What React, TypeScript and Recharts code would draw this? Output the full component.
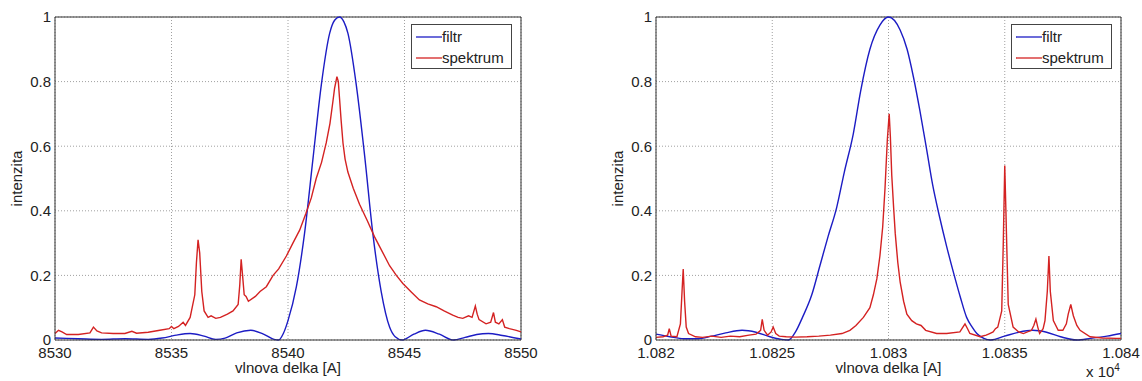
import React from "react";
import {
  LineChart,
  Line,
  XAxis,
  YAxis,
  CartesianGrid,
  Legend,
  ReferenceLine,
} from "recharts";

// ---- left panel (8530 - 8550 A) ----
const leftFiltrX = [
  8530.0, 8531.0, 8532.0, 8533.0, 8534.0, 8534.6, 8535.2, 8535.8, 8536.4, 8536.9,
  8537.3, 8537.8, 8538.4, 8538.9, 8539.4, 8539.6, 8539.8, 8540.0, 8540.36, 8540.71,
  8541.07, 8541.43, 8541.79, 8542.0, 8542.2, 8542.4, 8542.57, 8542.93, 8543.29, 8543.64,
  8544.0, 8544.36, 8544.6, 8544.9, 8545.4, 8545.9, 8546.5, 8547.1, 8547.6, 8548.1,
  8548.6, 8549.2, 8550.0,
];
const leftFiltrY = [
  0.006, 0.004, 0.002, 0.004, 0.002, 0.006, 0.015, 0.02, 0.012, 0.002,
  0.006, 0.022, 0.03, 0.02, 0.002, 0.0, 0.02, 0.06, 0.165, 0.33,
  0.56, 0.79, 0.95, 0.99, 1.0, 0.985, 0.95, 0.79, 0.57, 0.33,
  0.15, 0.04, 0.01, 0.0, 0.018, 0.03, 0.018, 0.0, 0.008, 0.017,
  0.02, 0.014, 0.003,
];
const leftSpektrumX = [
  8530.0, 8530.15, 8530.3, 8530.5, 8531.0, 8531.5, 8531.65, 8531.8, 8532.0, 8532.5,
  8533.0, 8533.3, 8533.5, 8534.0, 8534.5, 8534.9, 8535.0, 8535.1, 8535.3, 8535.5,
  8535.6, 8535.8, 8536.0, 8536.07, 8536.14, 8536.21, 8536.3, 8536.4, 8536.57, 8536.7,
  8536.9, 8537.1, 8537.4, 8537.64, 8537.86, 8537.93, 8537.99, 8538.05, 8538.12, 8538.2,
  8538.3, 8538.6, 8538.8, 8539.07, 8539.36, 8539.6, 8539.93, 8540.21, 8540.5, 8540.76,
  8541.0, 8541.21, 8541.44, 8541.64, 8541.8, 8541.93, 8542.0, 8542.1, 8542.16, 8542.21,
  8542.28, 8542.36, 8542.45, 8542.57, 8542.8, 8543.07, 8543.4, 8543.71, 8544.0, 8544.36,
  8544.65, 8544.93, 8545.3, 8545.64, 8546.0, 8546.36, 8546.7, 8547.07, 8547.3, 8547.5,
  8547.75, 8547.9, 8548.04, 8548.12, 8548.2, 8548.5, 8548.7, 8548.82, 8548.9, 8549.05,
  8549.2, 8549.3, 8549.5, 8549.8, 8550.0,
];
const leftSpektrumY = [
  0.02, 0.03, 0.025, 0.017, 0.017, 0.022, 0.04, 0.028, 0.022, 0.02,
  0.02, 0.027, 0.021, 0.024, 0.03, 0.035, 0.042, 0.035, 0.042, 0.055,
  0.045, 0.07, 0.14, 0.24, 0.31, 0.27, 0.15, 0.09, 0.07, 0.075,
  0.067, 0.07, 0.08, 0.09, 0.11, 0.17, 0.25, 0.2, 0.14, 0.135,
  0.12, 0.135, 0.15, 0.165, 0.2, 0.22, 0.26, 0.3, 0.34, 0.39,
  0.44, 0.5, 0.55, 0.61, 0.67, 0.74, 0.78, 0.815, 0.8, 0.75,
  0.68, 0.61, 0.56, 0.52, 0.47, 0.42, 0.37, 0.32, 0.28, 0.23,
  0.2, 0.175, 0.148, 0.124, 0.112, 0.103, 0.09, 0.077, 0.07, 0.067,
  0.075, 0.07, 0.105, 0.08, 0.063, 0.05, 0.055, 0.085, 0.055, 0.05,
  0.063, 0.04, 0.035, 0.03, 0.025,
];

// ---- right panel (1.082e4 - 1.084e4 A) ----
const rightFiltrX = [
  10820.0, 10820.6, 10821.2, 10821.8, 10822.4, 10823.0, 10823.7, 10824.3, 10824.9, 10825.4,
  10825.7, 10826.0, 10826.3, 10826.7, 10827.05, 10827.4, 10827.77, 10828.1, 10828.49, 10828.8,
  10829.2, 10829.63, 10830.0, 10830.5, 10830.8, 10831.07, 10831.35, 10831.64, 10831.9, 10832.2,
  10832.5, 10832.79, 10833.1, 10833.36, 10833.6, 10833.8, 10834.1, 10834.4, 10835.0, 10835.6,
  10836.2, 10836.8, 10837.4, 10838.1, 10838.7, 10839.4, 10840.0,
];
const rightFiltrY = [
  0.018, 0.01, 0.004, 0.004, 0.012, 0.022, 0.03, 0.024, 0.01, 0.002,
  0.0, 0.025, 0.07, 0.14, 0.23, 0.32, 0.41, 0.52, 0.64, 0.77,
  0.9, 0.975, 1.0, 0.96, 0.9, 0.815, 0.71, 0.59, 0.48, 0.38,
  0.29, 0.21, 0.13, 0.07, 0.04, 0.02, 0.005, 0.0, 0.012, 0.024,
  0.03, 0.024, 0.01, 0.0, 0.005, 0.012, 0.02,
];
const rightSpektrumX = [
  10820.0, 10820.3, 10820.5, 10820.57, 10820.65, 10820.9, 10821.05, 10821.12, 10821.17, 10821.23,
  10821.3, 10821.4, 10821.7, 10822.0, 10822.4, 10822.8, 10823.2, 10823.6, 10824.0, 10824.3,
  10824.5, 10824.57, 10824.65, 10824.8, 10824.95, 10825.04, 10825.15, 10825.3, 10825.6, 10826.0,
  10826.5, 10827.0, 10827.5, 10828.0, 10828.34, 10828.6, 10828.92, 10829.2, 10829.35, 10829.5,
  10829.63, 10829.75, 10829.85, 10829.95, 10830.03, 10830.08, 10830.14, 10830.22, 10830.29, 10830.4,
  10830.5, 10830.65, 10830.79, 10831.0, 10831.2, 10831.4, 10831.6, 10832.07, 10832.5, 10833.07,
  10833.2, 10833.29, 10833.4, 10833.5, 10833.94, 10834.2, 10834.35, 10834.5, 10834.6, 10834.7,
  10834.87, 10834.94, 10835.0, 10835.05, 10835.08, 10835.15, 10835.36, 10835.6, 10835.8, 10836.15,
  10836.25, 10836.34, 10836.42, 10836.5, 10836.65, 10836.73, 10836.83, 10836.9, 10836.96, 10837.09,
  10837.3, 10837.5, 10837.65, 10837.73, 10837.84, 10837.95, 10838.1, 10838.24, 10838.67, 10839.2,
  10839.8, 10840.0,
];
const rightSpektrumY = [
  0.008, 0.01, 0.015, 0.035, 0.012, 0.01, 0.05, 0.15, 0.22, 0.12,
  0.04, 0.02, 0.01, 0.008, 0.012, 0.008, 0.012, 0.01, 0.015, 0.018,
  0.03, 0.064, 0.03, 0.015, 0.025, 0.04, 0.02, 0.012, 0.01, 0.009,
  0.01, 0.012, 0.015, 0.02, 0.03, 0.045, 0.07, 0.1, 0.14, 0.19,
  0.26, 0.35, 0.47, 0.62, 0.7, 0.63, 0.51, 0.41, 0.33, 0.24,
  0.18, 0.12, 0.08, 0.06, 0.05, 0.045, 0.03, 0.02, 0.02, 0.025,
  0.04, 0.05, 0.035, 0.02, 0.01, 0.015, 0.02, 0.025, 0.035, 0.04,
  0.09, 0.31, 0.54, 0.4, 0.31, 0.11, 0.04, 0.025, 0.02, 0.03,
  0.045, 0.065, 0.04, 0.02, 0.035, 0.06, 0.15, 0.26, 0.15, 0.06,
  0.03, 0.03, 0.05, 0.08, 0.11, 0.075, 0.045, 0.03, 0.01, 0.006,
  0.005, 0.005,
];

// ---- ticks ----
const yTicks = [0, 0.2, 0.4, 0.6, 0.8, 1];
const yTickLabels = ["0", "0.2", "0.4", "0.6", "0.8", "1"];
const leftXTicks = [8530, 8535, 8540, 8545, 8550];
const leftXTickLabels = ["8530", "8535", "8540", "8545", "8550"];
const rightXTicks = [10820, 10825, 10830, 10835, 10840];
const rightXTickLabels = ["1.082", "1.0825", "1.083", "1.0835", "1.084"];

const BLUE = "#1c1cc4";
const RED = "#d42222";
const FONT = "'Liberation Sans', Arial, sans-serif";
const FS = 15;

const toPoints = (xs: number[], ys: number[]) => xs.map((x, i) => ({ x, y: ys[i] }));

const renderLegend = (props: any) => {
  const { payload } = props;
  return (
    <div
      style={{
        border: "1px solid #444",
        background: "#fff",
        width: 99,
        height: 42,
        boxSizing: "content-box",
        paddingTop: 1,
      }}
    >
      {payload.map((entry: any) => (
        <div
          key={entry.value}
          style={{ display: "flex", alignItems: "center", height: 21, fontSize: FS, color: "#222" }}
        >
          <svg width={30} height={10}>
            <line x1={4} y1={5} x2={30} y2={5} stroke={entry.color} strokeWidth={1.3} />
          </svg>
          <span>{entry.value}</span>
        </div>
      ))}
    </div>
  );
};

interface PanelProps {
  left: number;
  width: number;
  yAxisWidth: number;
  labelOffset: number;
  marginRight: number;
  xTicks: number[];
  xTickLabels: string[];
  filtr: { x: number; y: number }[];
  spektrum: { x: number; y: number }[];
  legendLeft: number;
}

const Panel = (p: PanelProps) => {
  const xMin = p.xTicks[0];
  const xMax = p.xTicks[p.xTicks.length - 1];
  return (
    <div style={{ position: "absolute", left: p.left, top: 0 }}>
      <LineChart
        width={p.width}
        height={381}
        margin={{ top: 17, right: p.marginRight, left: 0, bottom: 0 }}
        style={{ fontFamily: FONT }}
      >
        <CartesianGrid stroke="#a0a0a0" strokeDasharray="1 2" />
        <XAxis
          dataKey="x"
          type="number"
          domain={[xMin, xMax]}
          ticks={p.xTicks}
          tickFormatter={(v: number) => p.xTickLabels[p.xTicks.indexOf(v)]}
          height={41}
          tickLine={false}
          tickSize={0}
          tickMargin={7}
          stroke="#333"
          tick={{ fill: "#222", fontSize: FS }}
          label={{ value: "vlnova delka [A]", position: "insideBottom", offset: 8, fill: "#222", fontSize: FS }}
        />
        <YAxis
          type="number"
          domain={[0, 1]}
          ticks={yTicks}
          tickFormatter={(v: number) => yTickLabels[yTicks.indexOf(v)]}
          width={p.yAxisWidth}
          tickLine={false}
          tickSize={0}
          tickMargin={4}
          stroke="#333"
          tick={{ fill: "#222", fontSize: FS }}
          label={{
            value: "intenzita",
            angle: -90,
            position: "insideLeft",
            offset: p.labelOffset,
            fill: "#222",
            fontSize: FS,
            style: { textAnchor: "middle" },
          }}
        />
        <ReferenceLine y={1} stroke="#333" />
        <ReferenceLine x={xMax} stroke="#333" />
        <Legend
          layout="vertical"
          align="center"
          verticalAlign="middle"
          content={renderLegend}
          wrapperStyle={{ left: p.legendLeft, top: 24, width: 101, height: 44 }}
        />
        <Line
          data={p.filtr}
          dataKey="y"
          name="filtr"
          type="monotone"
          stroke={BLUE}
          strokeWidth={1.4}
          dot={false}
          isAnimationActive={false}
        />
        <Line
          data={p.spektrum}
          dataKey="y"
          name="spektrum"
          type="linear"
          stroke={RED}
          strokeWidth={1.4}
          dot={false}
          isAnimationActive={false}
        />
      </LineChart>
    </div>
  );
};

export default function App() {
  return (
    <div
      style={{
        position: "absolute",
        left: 0,
        top: 0,
        width: 1142,
        height: 381,
        background: "#fff",
        fontFamily: FONT,
        overflow: "hidden",
      }}
    >
      <Panel
        left={0}
        width={560}
        yAxisWidth={55}
        labelOffset={17}
        marginRight={39}
        xTicks={leftXTicks}
        xTickLabels={leftXTickLabels}
        filtr={toPoints(leftFiltrX, leftFiltrY)}
        spektrum={toPoints(leftSpektrumX, leftSpektrumY)}
        legendLeft={411}
      />
      <Panel
        left={570}
        width={572}
        yAxisWidth={86}
        labelOffset={48}
        marginRight={21}
        xTicks={rightXTicks}
        xTickLabels={rightXTickLabels}
        filtr={toPoints(rightFiltrX, rightFiltrY)}
        spektrum={toPoints(rightSpektrumX, rightSpektrumY)}
        legendLeft={441}
      />
      <div
        style={{
          position: "absolute",
          left: 1086,
          top: 364,
          fontSize: FS,
          lineHeight: "16px",
          color: "#222",
          whiteSpace: "nowrap",
        }}
      >
        x 10
        <span style={{ fontSize: 10, position: "relative", top: -6 }}>4</span>
      </div>
    </div>
  );
}
